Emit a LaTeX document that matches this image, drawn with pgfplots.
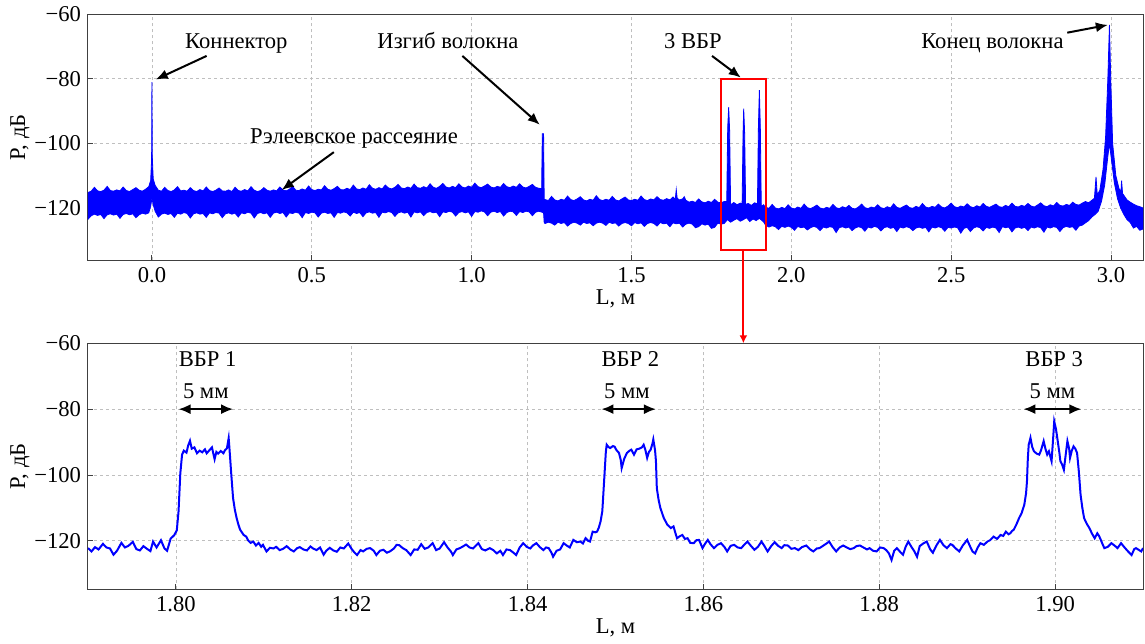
\documentclass[border=0pt]{standalone}
\usepackage{fontspec}
\setmainfont{Liberation Serif}
\usepackage{pgfplots}
\pgfplotsset{compat=1.18}
\usetikzlibrary{arrows.meta}

\newcommand\fs{\fontsize{11.3}{13}\selectfont}
\pgfplotsset{
  otdr/.style={
    scale only axis, width=527.5pt, height=123pt,
    axis line style={black!75, line width=0.5pt},
    grid=major,
    grid style={gray!50, line width=0.4pt, dash pattern=on 1.5pt off 1.5pt},
    tick align=inside, major tick length=2.5pt,
    tick style={black!75, line width=0.5pt},
    xtick pos=bottom, ytick pos=left,
    ymax=-60,
    ytick={-120,-100,-80,-60}, yticklabels={−120,−100,−80,−60},
    ticklabel style={font=\fs},
    xlabel={L, м}, ylabel={P, дБ},
    every axis y label/.style={at={(axis description cs:-0.0645,0.5)}, rotate=90, anchor=center, font=\fs},
    every axis x label/.style={at={(axis description cs:0.5,-0.155)}, anchor=center, font=\fs},
  },
}
\tikzset{
  ann/.style={font=\fs, inner sep=0pt},
  blk/.style={black, line width=1pt, -{Latex[length=6pt,width=5pt]}},
  dbl/.style={black, line width=1pt, {Latex[length=6pt,width=5pt]}-{Latex[length=6pt,width=5pt]}},
}

\begin{document}
\begin{tikzpicture}

% full trace, -0.2 ... 3.1 m: noise band drawn as upper edge then lower edge
\begin{axis}[otdr, name=top,
  xmin=-0.2, xmax=3.1, ymin=-136.2,
  xtick={0,0.5,1,1.5,2,2.5,3},
  xticklabels={0.0,0.5,1.0,1.5,2.0,2.5,3.0}]

\addplot[draw=blue, fill=blue, line width=0.4pt] table {
x y
-0.20 -115.2
-0.19 -114.8
-0.18 -113.6
-0.17 -114.7
-0.16 -114.9
-0.15 -114.5
-0.14 -113.3
-0.13 -114.6
-0.12 -114.8
-0.11 -114.4
-0.10 -114.7
-0.09 -113.5
-0.08 -114.6
-0.07 -114.9
-0.06 -114.3
-0.05 -113.7
-0.04 -114.5
-0.03 -114.8
-0.02 -114.2
-0.01 -113.4
-0.004 -111.5
-0.001 -105
0.000 -81
0.001 -104
0.004 -111.0
0.01 -113.0
0.02 -114.5
0.03 -114.8
0.04 -113.6
0.05 -114.6
0.06 -114.9
0.07 -114.4
0.08 -113.4
0.09 -114.7
0.10 -114.5
0.11 -114.8
0.12 -113.7
0.13 -114.6
0.14 -114.9
0.15 -114.3
0.16 -114.7
0.17 -113.5
0.18 -114.6
0.19 -114.9
0.20 -114.5
0.21 -113.8
0.22 -114.7
0.23 -114.8
0.24 -114.4
0.25 -114.9
0.26 -113.6
0.27 -114.6
0.28 -114.8
0.29 -114.3
0.30 -114.7
0.31 -113.4
0.32 -114.5
0.33 -114.9
0.34 -114.6
0.35 -113.7
0.36 -114.5
0.37 -114.8
0.38 -114.4
0.39 -114.7
0.40 -113.5
0.41 -114.4
0.42 -114.7
0.43 -114.2
0.44 -113.3
0.45 -114.5
0.46 -114.6
0.47 -114.1
0.48 -114.5
0.49 -113.2
0.50 -114.3
0.51 -114.6
0.52 -114.2
0.53 -114.4
0.54 -113.1
0.55 -114.2
0.56 -114.5
0.57 -114.0
0.58 -113.3
0.59 -114.3
0.60 -114.4
0.61 -113.9
0.62 -114.3
0.63 -112.9
0.64 -114.1
0.65 -114.3
0.66 -113.8
0.67 -114.2
0.68 -112.8
0.69 -113.9
0.70 -114.2
0.71 -113.7
0.72 -114.1
0.73 -112.9
0.74 -113.8
0.75 -114.1
0.76 -113.6
0.77 -112.7
0.78 -113.8
0.79 -114.0
0.80 -113.5
0.81 -113.9
0.82 -112.6
0.83 -113.7
0.84 -113.9
0.85 -113.4
0.86 -113.8
0.87 -112.5
0.88 -113.6
0.89 -113.9
0.90 -113.3
0.91 -112.4
0.92 -113.5
0.93 -113.8
0.94 -113.3
0.95 -113.7
0.96 -112.5
0.97 -113.5
0.98 -113.8
0.99 -113.2
1.00 -113.6
1.01 -112.3
1.02 -113.4
1.03 -113.7
1.04 -113.2
1.05 -112.6
1.06 -113.5
1.07 -113.8
1.08 -113.3
1.09 -113.6
1.10 -112.4
1.11 -113.4
1.12 -113.7
1.13 -113.2
1.14 -113.6
1.15 -112.5
1.16 -113.5
1.17 -113.8
1.18 -113.3
1.19 -112.7
1.20 -113.6
1.21 -113.9
1.219 -114.0
1.221 -97
1.225 -97
1.227 -117.5
1.23 -117.4
1.24 -117.7
1.25 -116.4
1.26 -117.5
1.27 -117.8
1.28 -117.3
1.29 -117.6
1.30 -116.3
1.31 -117.4
1.32 -117.7
1.33 -117.2
1.34 -116.5
1.35 -117.5
1.36 -117.8
1.37 -117.3
1.38 -117.6
1.39 -116.2
1.40 -117.4
1.41 -117.7
1.42 -117.3
1.43 -117.6
1.44 -116.4
1.45 -117.5
1.46 -117.8
1.47 -117.2
1.48 -116.6
1.49 -117.5
1.50 -117.7
1.51 -117.3
1.52 -117.6
1.53 -116.3
1.54 -117.4
1.55 -117.7
1.56 -117.2
1.57 -117.5
1.58 -116.5
1.59 -117.4
1.60 -117.6
1.61 -117.1
1.62 -117.5
1.63 -116.6
1.637 -117.3
1.640 -114.3
1.643 -117.0
1.65 -117.5
1.66 -117.2
1.665 -116.5
1.67 -117.6
1.68 -118.2
1.69 -117.9
1.70 -118.3
1.71 -117.2
1.72 -118.1
1.73 -118.4
1.74 -117.9
1.75 -118.3
1.76 -117.3
1.77 -118.2
1.78 -118.4
1.79 -118.0
1.798 -118.0
1.801 -95
1.804 -88.8
1.807 -96
1.810 -119.0
1.82 -118.3
1.83 -119.0
1.84 -118.5
1.846 -118.8
1.849 -97
1.851 -89.2
1.854 -97
1.857 -119.0
1.865 -118.6
1.875 -119.2
1.885 -118.4
1.894 -118.7
1.897 -95
1.900 -83.5
1.903 -95
1.906 -119.5
1.913 -119.0
1.92 -119.8
1.93 -120.1
1.94 -118.9
1.95 -120.0
1.96 -120.3
1.97 -119.8
1.98 -120.2
1.99 -119.0
2.00 -120.0
2.01 -120.3
2.02 -119.7
2.03 -120.1
2.04 -118.8
2.05 -119.9
2.06 -120.2
2.07 -119.7
2.08 -119.1
2.09 -120.0
2.10 -120.3
2.11 -119.8
2.12 -120.1
2.13 -118.9
2.14 -119.9
2.15 -120.2
2.16 -119.6
2.17 -120.0
2.18 -119.2
2.19 -120.1
2.20 -120.3
2.21 -119.7
2.22 -118.8
2.23 -119.9
2.24 -120.2
2.25 -119.7
2.26 -120.0
2.27 -119.0
2.28 -119.9
2.29 -120.2
2.30 -119.6
2.31 -120.0
2.32 -118.7
2.33 -119.8
2.34 -120.1
2.35 -119.6
2.36 -119.1
2.37 -119.9
2.38 -120.1
2.39 -119.5
2.40 -119.9
2.41 -118.6
2.42 -119.7
2.43 -120.0
2.44 -119.5
2.45 -119.8
2.46 -118.8
2.47 -119.7
2.48 -120.0
2.49 -119.4
2.50 -118.5
2.51 -119.6
2.52 -119.9
2.53 -119.4
2.54 -119.7
2.55 -118.7
2.56 -119.6
2.57 -119.9
2.58 -119.3
2.59 -119.7
2.60 -118.6
2.61 -119.5
2.62 -119.8
2.63 -119.3
2.64 -118.8
2.65 -119.6
2.66 -119.8
2.67 -119.2
2.68 -119.6
2.69 -118.5
2.70 -119.5
2.71 -119.7
2.72 -119.2
2.73 -119.5
2.74 -118.6
2.75 -119.4
2.76 -119.7
2.77 -119.1
2.78 -118.4
2.79 -119.3
2.80 -119.6
2.81 -119.0
2.82 -119.4
2.83 -118.3
2.84 -119.2
2.85 -119.4
2.86 -118.9
2.87 -119.2
2.88 -118.2
2.89 -118.9
2.90 -119.1
2.91 -118.5
2.92 -118.0
2.93 -118.4
2.94 -117.6
2.948 -117.0
2.953 -110.4
2.957 -116.0
2.965 -114.5
2.975 -108
2.983 -98
2.990 -80
2.995 -63.3
2.999 -80
3.005 -100
3.015 -110
3.025 -114
3.031 -115
3.033 -111.5
3.036 -115.5
3.05 -117.5
3.06 -118.2
3.07 -118.8
3.08 -119.3
3.09 -119.6
3.10 -120.0
3.10 -126.5
3.09 -126.9
3.08 -125.7
3.07 -126.2
3.06 -124.5
3.05 -123.6
3.04 -122.0
3.03 -120.0
3.02 -117.0
3.01 -112.0
3.00 -104.0
2.995 -100.0
2.99 -104.0
2.98 -113.0
2.97 -118.0
2.96 -121.0
2.95 -122.0
2.94 -122.8
2.93 -123.9
2.92 -124.6
2.91 -125.3
2.90 -125.6
2.89 -126.9
2.88 -125.8
2.87 -126.0
2.86 -125.7
2.85 -126.1
2.84 -127.3
2.83 -126.0
2.82 -125.8
2.81 -126.2
2.80 -125.9
2.79 -127.5
2.78 -126.1
2.77 -125.8
2.76 -126.2
2.75 -125.9
2.74 -127.0
2.73 -126.0
2.72 -126.3
2.71 -125.9
2.70 -126.2
2.69 -127.4
2.68 -125.9
2.67 -126.1
2.66 -125.8
2.65 -127.6
2.64 -126.2
2.63 -125.9
2.62 -126.3
2.61 -126.0
2.60 -127.1
2.59 -126.1
2.58 -125.8
2.57 -126.2
2.56 -127.3
2.55 -126.0
2.54 -126.3
2.53 -127.8
2.52 -126.1
2.51 -125.9
2.50 -126.2
2.49 -126.0
2.48 -127.2
2.47 -126.1
2.46 -125.8
2.45 -126.2
2.44 -125.9
2.43 -127.4
2.42 -126.0
2.41 -126.3
2.40 -125.9
2.39 -126.2
2.38 -127.0
2.37 -126.1
2.36 -125.8
2.35 -126.2
2.34 -125.9
2.33 -127.3
2.32 -126.0
2.31 -126.3
2.30 -125.8
2.29 -126.1
2.28 -127.1
2.27 -126.0
2.26 -125.7
2.25 -126.2
2.24 -125.9
2.23 -127.2
2.22 -126.1
2.21 -125.8
2.20 -126.2
2.19 -127.0
2.18 -125.9
2.17 -126.2
2.16 -125.8
2.15 -126.1
2.14 -127.6
2.13 -126.0
2.12 -125.8
2.11 -126.2
2.10 -125.9
2.09 -127.0
2.08 -126.0
2.07 -125.7
2.06 -126.1
2.05 -126.8
2.04 -125.9
2.03 -126.1
2.02 -125.7
2.01 -126.9
2.00 -126.0
1.99 -125.6
1.98 -126.0
1.97 -125.7
1.96 -126.7
1.95 -125.8
1.94 -125.5
1.93 -125.9
1.92 -125.4
1.913 -124.3
1.90 -123.2
1.89 -123.9
1.88 -123.4
1.87 -124.2
1.86 -123.0
1.85 -123.6
1.84 -124.1
1.83 -123.3
1.82 -123.8
1.81 -124.4
1.80 -123.6
1.79 -124.8
1.78 -125.0
1.77 -124.7
1.76 -126.0
1.75 -126.3
1.74 -125.0
1.73 -125.3
1.72 -124.9
1.71 -125.8
1.70 -126.1
1.69 -125.0
1.68 -124.7
1.67 -125.0
1.66 -125.9
1.65 -124.7
1.64 -124.9
1.63 -124.6
1.62 -125.8
1.61 -124.7
1.60 -124.9
1.59 -124.5
1.58 -125.6
1.57 -124.8
1.56 -124.5
1.55 -124.8
1.54 -125.7
1.53 -124.6
1.52 -124.9
1.51 -124.5
1.50 -125.5
1.49 -124.8
1.48 -124.5
1.47 -124.8
1.46 -125.6
1.45 -124.6
1.44 -124.8
1.43 -124.4
1.42 -125.4
1.41 -124.7
1.40 -124.4
1.39 -124.7
1.38 -125.5
1.37 -124.6
1.36 -124.8
1.35 -124.4
1.34 -125.3
1.33 -124.7
1.32 -124.4
1.31 -124.8
1.30 -125.6
1.29 -124.5
1.28 -124.8
1.27 -124.4
1.26 -125.3
1.25 -124.7
1.24 -124.4
1.23 -124.8
1.227 -124.6
1.225 -121.5
1.22 -121.3
1.21 -121.0
1.20 -121.3
1.19 -122.4
1.18 -121.2
1.17 -121.0
1.16 -121.4
1.15 -121.1
1.14 -122.3
1.13 -121.2
1.12 -121.0
1.11 -121.4
1.10 -122.5
1.09 -121.1
1.08 -121.4
1.07 -121.0
1.06 -121.3
1.05 -122.4
1.04 -121.2
1.03 -120.9
1.02 -121.3
1.01 -121.1
1.00 -122.6
0.99 -121.2
0.98 -121.5
0.97 -121.1
0.96 -121.4
0.95 -122.5
0.94 -121.3
0.93 -121.0
0.92 -121.4
0.91 -121.2
0.90 -122.7
0.89 -121.3
0.88 -121.5
0.87 -121.1
0.86 -121.4
0.85 -122.4
0.84 -121.2
0.83 -121.5
0.82 -121.2
0.81 -122.8
0.80 -121.3
0.79 -121.6
0.78 -121.2
0.77 -121.5
0.76 -122.6
0.75 -121.4
0.74 -121.1
0.73 -121.5
0.72 -121.3
0.71 -122.9
0.70 -121.4
0.69 -121.6
0.68 -121.2
0.67 -121.5
0.66 -122.7
0.65 -121.4
0.64 -121.7
0.63 -121.3
0.62 -122.5
0.61 -121.5
0.60 -121.2
0.59 -121.6
0.58 -121.4
0.57 -122.9
0.56 -121.5
0.55 -121.7
0.54 -121.3
0.53 -121.6
0.52 -122.8
0.51 -121.5
0.50 -121.3
0.49 -121.7
0.48 -121.4
0.47 -123.0
0.46 -121.6
0.45 -121.3
0.44 -121.7
0.43 -121.5
0.42 -122.8
0.41 -121.4
0.40 -121.7
0.39 -121.3
0.38 -121.6
0.37 -122.9
0.36 -121.5
0.35 -121.8
0.34 -121.4
0.33 -121.7
0.32 -123.1
0.31 -121.6
0.30 -121.3
0.29 -121.8
0.28 -121.5
0.27 -122.8
0.26 -121.6
0.25 -121.9
0.24 -121.5
0.23 -121.8
0.22 -123.0
0.21 -121.6
0.20 -121.4
0.19 -121.8
0.18 -121.5
0.17 -122.9
0.16 -121.7
0.15 -121.9
0.14 -121.5
0.13 -121.8
0.12 -123.1
0.11 -121.7
0.10 -121.4
0.09 -121.9
0.08 -121.6
0.07 -122.9
0.06 -121.7
0.05 -122.0
0.04 -121.6
0.03 -121.9
0.02 -122.8
0.01 -121.0
0.004 -119.0
0.000 -117.0
-0.004 -119.5
-0.01 -121.5
-0.02 -121.9
-0.03 -121.6
-0.04 -122.1
-0.05 -123.0
-0.06 -121.8
-0.07 -122.1
-0.08 -121.7
-0.09 -122.0
-0.10 -123.2
-0.11 -121.9
-0.12 -122.2
-0.13 -121.8
-0.14 -122.1
-0.15 -123.3
-0.16 -122.0
-0.17 -122.3
-0.18 -121.9
-0.19 -122.4
-0.20 -123.5
};

\node[ann, anchor=base] at (axis cs:0.264,-70.6) {Коннектор};
\draw[blk] (axis cs:0.171,-72.9) -- (axis cs:0.012,-80.2);
\node[ann, anchor=base] at (axis cs:0.926,-70.6) {Изгиб волокна};
\draw[blk] (axis cs:0.971,-72.9) -- (axis cs:1.213,-94.2);
\node[ann, anchor=base] at (axis cs:1.692,-70.6) {3 ВБР};
\draw[blk] (axis cs:1.752,-72.9) -- (axis cs:1.842,-79.6);
\node[ann, anchor=base] at (axis cs:2.629,-70.6) {Конец волокна};
\draw[blk] (axis cs:2.863,-65.7) -- (axis cs:2.990,-63.3);
\node[ann, anchor=base] at (axis cs:0.632,-100.0) {Рэлеевское рассеяние};
\draw[blk] (axis cs:0.569,-102.7) -- (axis cs:0.406,-114.4);

\draw[red, line width=1pt] (axis cs:1.78,-133) rectangle (axis cs:1.92,-80);
\coordinate (rb) at (axis cs:1.85,-133);
\end{axis}

% zoom on the three gratings, 1.79 ... 1.91 m
\begin{axis}[otdr, name=bot, at={(0pt,-164.5pt)},
  xmin=1.79, xmax=1.91, ymin=-134.7,
  xtick={1.80,1.82,1.84,1.86,1.88,1.90},
  xticklabels={1.80,1.82,1.84,1.86,1.88,1.90}]

\addplot[blue, line width=1pt] table {
x y
1.7900 -122.2
1.7904 -123.2
1.7908 -121.9
1.7912 -122.6
1.7917 -120.9
1.7921 -122.0
1.7925 -122.3
1.7929 -124.2
1.7933 -123.0
1.7938 -120.6
1.7942 -122.0
1.7946 -121.5
1.7951 -120.3
1.7955 -122.5
1.7959 -122.9
1.7963 -121.6
1.7967 -122.4
1.7971 -123.1
1.7974 -120.2
1.7978 -122.0
1.7983 -119.8
1.7987 -122.3
1.7990 -123.0
1.7994 -119.3
1.7998 -118.3
1.8001 -116.8
1.8003 -111.0
1.8005 -99.5
1.8007 -93.8
1.8009 -92.6
1.8012 -93.2
1.8014 -91.0
1.8016 -89.6
1.8018 -92.0
1.8021 -91.6
1.8024 -93.4
1.8027 -92.6
1.8030 -93.1
1.8033 -92.2
1.8035 -93.4
1.8038 -92.5
1.8041 -91.6
1.8044 -95.2
1.8046 -93.0
1.8048 -93.5
1.8051 -92.7
1.8054 -93.4
1.8056 -92.4
1.8058 -91.9
1.8060 -88.8
1.8061 -92.3
1.8063 -99.9
1.8065 -107.0
1.8067 -110.5
1.8069 -113.0
1.8071 -115.0
1.8073 -116.6
1.8077 -118.2
1.8080 -118.7
1.8082 -119.8
1.8085 -120.6
1.8088 -120.2
1.8091 -121.4
1.8094 -120.6
1.8097 -121.8
1.8099 -121.2
1.8103 -123.2
1.8107 -122.1
1.8111 -122.3
1.8114 -121.8
1.8118 -122.8
1.8122 -122.4
1.8126 -121.6
1.8130 -122.6
1.8134 -123.2
1.8138 -122.2
1.8141 -121.9
1.8145 -122.6
1.8149 -122.9
1.8153 -121.7
1.8156 -122.3
1.8160 -122.8
1.8164 -122.0
1.8168 -124.2
1.8171 -123.0
1.8175 -122.1
1.8179 -122.9
1.8183 -123.3
1.8187 -122.0
1.8191 -122.3
1.8194 -121.4
1.8196 -120.8
1.8200 -122.5
1.8203 -123.5
1.8206 -124.3
1.8210 -122.8
1.8213 -123.2
1.8217 -122.4
1.8221 -122.2
1.8225 -123.0
1.8228 -124.3
1.8232 -123.0
1.8236 -122.7
1.8240 -123.6
1.8244 -123.1
1.8248 -122.3
1.8251 -121.2
1.8254 -121.3
1.8258 -122.2
1.8262 -122.8
1.8267 -124.3
1.8271 -122.6
1.8275 -122.7
1.8279 -121.0
1.8283 -122.4
1.8287 -122.0
1.8292 -120.7
1.8296 -122.8
1.8300 -122.3
1.8305 -120.4
1.8309 -122.0
1.8313 -123.3
1.8315 -124.3
1.8319 -122.6
1.8323 -122.2
1.8327 -121.6
1.8330 -121.1
1.8334 -122.0
1.8338 -122.3
1.8342 -121.2
1.8344 -120.7
1.8348 -122.5
1.8352 -122.9
1.8357 -122.2
1.8361 -122.8
1.8365 -123.8
1.8369 -123.0
1.8372 -124.3
1.8376 -122.6
1.8380 -122.8
1.8384 -123.6
1.8387 -124.3
1.8391 -122.0
1.8395 -120.7
1.8399 -121.8
1.8403 -122.3
1.8406 -121.4
1.8410 -120.7
1.8414 -121.9
1.8418 -122.8
1.8421 -122.0
1.8424 -122.2
1.8427 -123.5
1.8429 -124.8
1.8433 -123.0
1.8437 -122.6
1.8441 -120.7
1.8445 -121.5
1.8448 -122.0
1.8452 -119.7
1.8456 -120.4
1.8460 -120.2
1.8463 -120.8
1.8466 -119.2
1.8469 -120.0
1.8471 -120.2
1.8474 -117.2
1.8477 -117.4
1.8479 -117.2
1.8481 -116.0
1.8483 -114.1
1.8485 -111.0
1.8487 -102.0
1.8489 -93.0
1.8490 -90.8
1.8492 -91.5
1.8494 -91.8
1.8497 -91.2
1.8499 -91.4
1.8501 -92.4
1.8504 -93.3
1.8506 -95.5
1.8507 -97.9
1.8510 -95.0
1.8513 -93.3
1.8516 -92.6
1.8518 -92.3
1.8521 -93.8
1.8524 -92.2
1.8527 -92.0
1.8530 -91.6
1.8532 -90.8
1.8534 -92.4
1.8536 -94.8
1.8538 -93.0
1.8540 -92.3
1.8542 -90.5
1.8543 -89.2
1.8545 -92.5
1.8546 -95.8
1.8547 -104.0
1.8549 -107.5
1.8551 -110.0
1.8555 -113.1
1.8559 -115.1
1.8563 -116.1
1.8566 -115.6
1.8568 -117.5
1.8570 -119.2
1.8573 -118.6
1.8576 -118.2
1.8579 -119.4
1.8582 -119.2
1.8585 -120.6
1.8589 -120.7
1.8592 -119.8
1.8595 -119.7
1.8599 -122.2
1.8602 -120.8
1.8605 -119.7
1.8608 -121.0
1.8612 -122.2
1.8616 -121.2
1.8620 -120.7
1.8624 -121.9
1.8627 -123.2
1.8631 -121.5
1.8635 -121.2
1.8639 -122.0
1.8643 -122.2
1.8646 -121.3
1.8650 -120.2
1.8654 -121.5
1.8658 -122.7
1.8662 -121.8
1.8666 -120.2
1.8669 -121.4
1.8673 -123.2
1.8677 -121.6
1.8681 -120.4
1.8685 -121.5
1.8689 -122.2
1.8692 -121.3
1.8696 -121.4
1.8700 -122.4
1.8704 -122.2
1.8708 -122.8
1.8712 -121.9
1.8717 -121.4
1.8721 -122.5
1.8725 -123.2
1.8729 -122.3
1.8732 -122.2
1.8736 -121.5
1.8740 -120.8
1.8743 -120.2
1.8747 -121.9
1.8751 -123.2
1.8755 -122.0
1.8759 -121.4
1.8763 -122.0
1.8767 -122.5
1.8771 -122.2
1.8774 -121.6
1.8778 -121.4
1.8782 -122.0
1.8786 -122.6
1.8789 -122.2
1.8793 -123.0
1.8797 -123.2
1.8801 -122.0
1.8805 -122.2
1.8808 -122.8
1.8811 -123.8
1.8814 -125.8
1.8817 -123.0
1.8820 -122.2
1.8824 -123.4
1.8827 -124.2
1.8830 -121.8
1.8833 -120.2
1.8837 -122.0
1.8840 -123.2
1.8843 -124.8
1.8846 -121.6
1.8850 -120.8
1.8854 -120.2
1.8858 -122.6
1.8861 -123.6
1.8865 -121.4
1.8869 -119.7
1.8873 -121.3
1.8877 -122.2
1.8881 -121.0
1.8883 -121.2
1.8887 -122.3
1.8891 -123.2
1.8895 -121.4
1.8900 -119.7
1.8903 -121.5
1.8906 -123.2
1.8909 -123.8
1.8912 -122.0
1.8915 -120.7
1.8919 -121.2
1.8923 -120.2
1.8926 -119.8
1.8930 -118.7
1.8934 -119.4
1.8938 -118.2
1.8941 -118.5
1.8944 -117.2
1.8947 -118.0
1.8949 -117.7
1.8951 -117.0
1.8953 -116.6
1.8956 -115.0
1.8959 -113.1
1.8962 -111.5
1.8965 -109.0
1.8967 -105.5
1.8968 -102.0
1.8969 -95.0
1.8970 -90.8
1.8972 -88.7
1.8974 -91.5
1.8976 -92.8
1.8979 -93.5
1.8982 -93.8
1.8984 -92.5
1.8987 -89.7
1.8989 -92.0
1.8991 -93.8
1.8993 -92.8
1.8996 -95.8
1.8998 -88.0
1.8999 -83.7
1.9001 -86.0
1.9003 -89.7
1.9005 -93.5
1.9006 -95.8
1.9008 -96.8
1.9010 -98.4
1.9012 -94.0
1.9014 -89.7
1.9016 -92.0
1.9017 -94.8
1.9019 -92.6
1.9021 -91.3
1.9023 -92.0
1.9025 -93.3
1.9027 -98.9
1.9029 -106.0
1.9031 -110.0
1.9033 -113.1
1.9036 -114.8
1.9039 -116.1
1.9042 -117.8
1.9045 -119.2
1.9048 -117.7
1.9050 -118.5
1.9052 -119.7
1.9054 -121.0
1.9056 -122.2
1.9060 -121.8
1.9064 -120.7
1.9068 -121.5
1.9071 -122.2
1.9075 -120.7
1.9079 -122.0
1.9083 -123.2
1.9087 -124.3
1.9090 -122.5
1.9092 -122.2
1.9095 -122.7
1.9098 -123.2
1.9100 -122.2
};

\node[ann, anchor=base] at (axis cs:1.8036,-66.9) {ВБР 1};
\node[ann, anchor=base] at (axis cs:1.8034,-76.7) {5 мм};
\draw[dbl] (axis cs:1.8003,-80) -- (axis cs:1.8065,-80);
\node[ann, anchor=base] at (axis cs:1.8517,-66.9) {ВБР 2};
\node[ann, anchor=base] at (axis cs:1.8513,-76.7) {5 мм};
\draw[dbl] (axis cs:1.8484,-80) -- (axis cs:1.8546,-80);
\node[ann, anchor=base] at (axis cs:1.8999,-66.9) {ВБР 3};
\node[ann, anchor=base] at (axis cs:1.8997,-76.7) {5 мм};
\draw[dbl] (axis cs:1.8964,-80) -- (axis cs:1.9030,-80);
\coordinate (bt) at (rel axis cs:0,1);
\end{axis}

\draw[red, line width=0.9pt, -{Latex[length=4pt,width=4pt]}] (rb) -- (rb |- bt);
% horizontal extent of the page: 88 px margin left of the axes, 2 px right
\path (-44pt,0pt) (528.5pt,0pt);
\end{tikzpicture}
\end{document}
